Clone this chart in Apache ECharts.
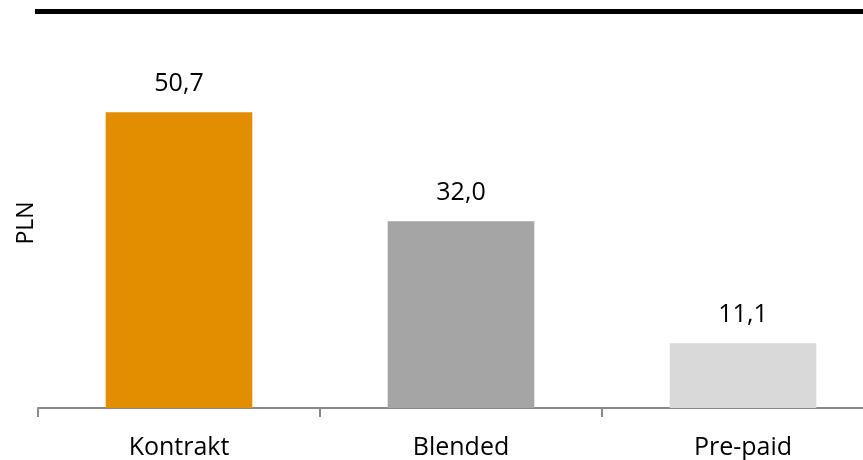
<!DOCTYPE html>
<html>
<head>
<meta charset="utf-8">
<script src="https://cdn.jsdelivr.net/npm/echarts@6/dist/echarts.min.js"></script>
<style>
  html, body { margin: 0; padding: 0; background: #fff; overflow: hidden; width: 863px; height: 460px; }
  /* the chart is wider than the page so the last category runs off the right edge */
  #chart { width: 884px; height: 460px; }
</style>
</head>
<body>
<div id="chart"></div>
<script>
// Average revenue per user by segment
const categories = ['Kontrakt', 'Blended', 'Pre-paid'];
const values = [50.7, 32.0, 11.1];
const barColors = ['#E38D00', '#A5A5A5', '#D9D9D9'];
const axisName = 'PLN';

const fontFamily = '"Open Sans", "Noto Sans", sans-serif';
const fmt = v => v.toFixed(1).replace('.', ',');

const chart = echarts.init(document.getElementById('chart'), null, { renderer: 'canvas' });
chart.setOption({
  animation: false,
  grid: { left: 38, right: 0, top: 58, bottom: 52, containLabel: false },
  graphic: [
    {
      type: 'rect',
      shape: { x: 35, y: 9, width: 849, height: 5 },
      style: { fill: '#000' }
    },
    {
      type: 'text',
      x: 26,
      y: 223,
      rotation: Math.PI / 2,
      style: {
        text: axisName,
        fill: '#000',
        font: '23px ' + fontFamily,
        align: 'center',
        verticalAlign: 'middle'
      }
    }
  ],
  xAxis: {
    type: 'category',
    data: categories,
    axisLine: { show: true, lineStyle: { color: '#898989', width: 2 } },
    axisTick: { show: true, length: 9, lineStyle: { color: '#898989', width: 2 } },
    axisLabel: { color: '#000', fontSize: 25, fontFamily, margin: 27 }
  },
  yAxis: {
    type: 'value',
    min: 0,
    max: 60,
    axisLine: { show: false },
    axisTick: { show: false },
    axisLabel: { show: false },
    splitLine: { show: false }
  },
  series: [{
    type: 'bar',
    barWidth: '52%',
    data: values.map((v, i) => ({ value: v, itemStyle: { color: barColors[i] } })),
    label: {
      show: true,
      position: 'top',
      distance: 16,
      color: '#000',
      fontSize: 25,
      fontFamily,
      formatter: p => fmt(p.value)
    }
  }]
});
</script>
</body>
</html>
